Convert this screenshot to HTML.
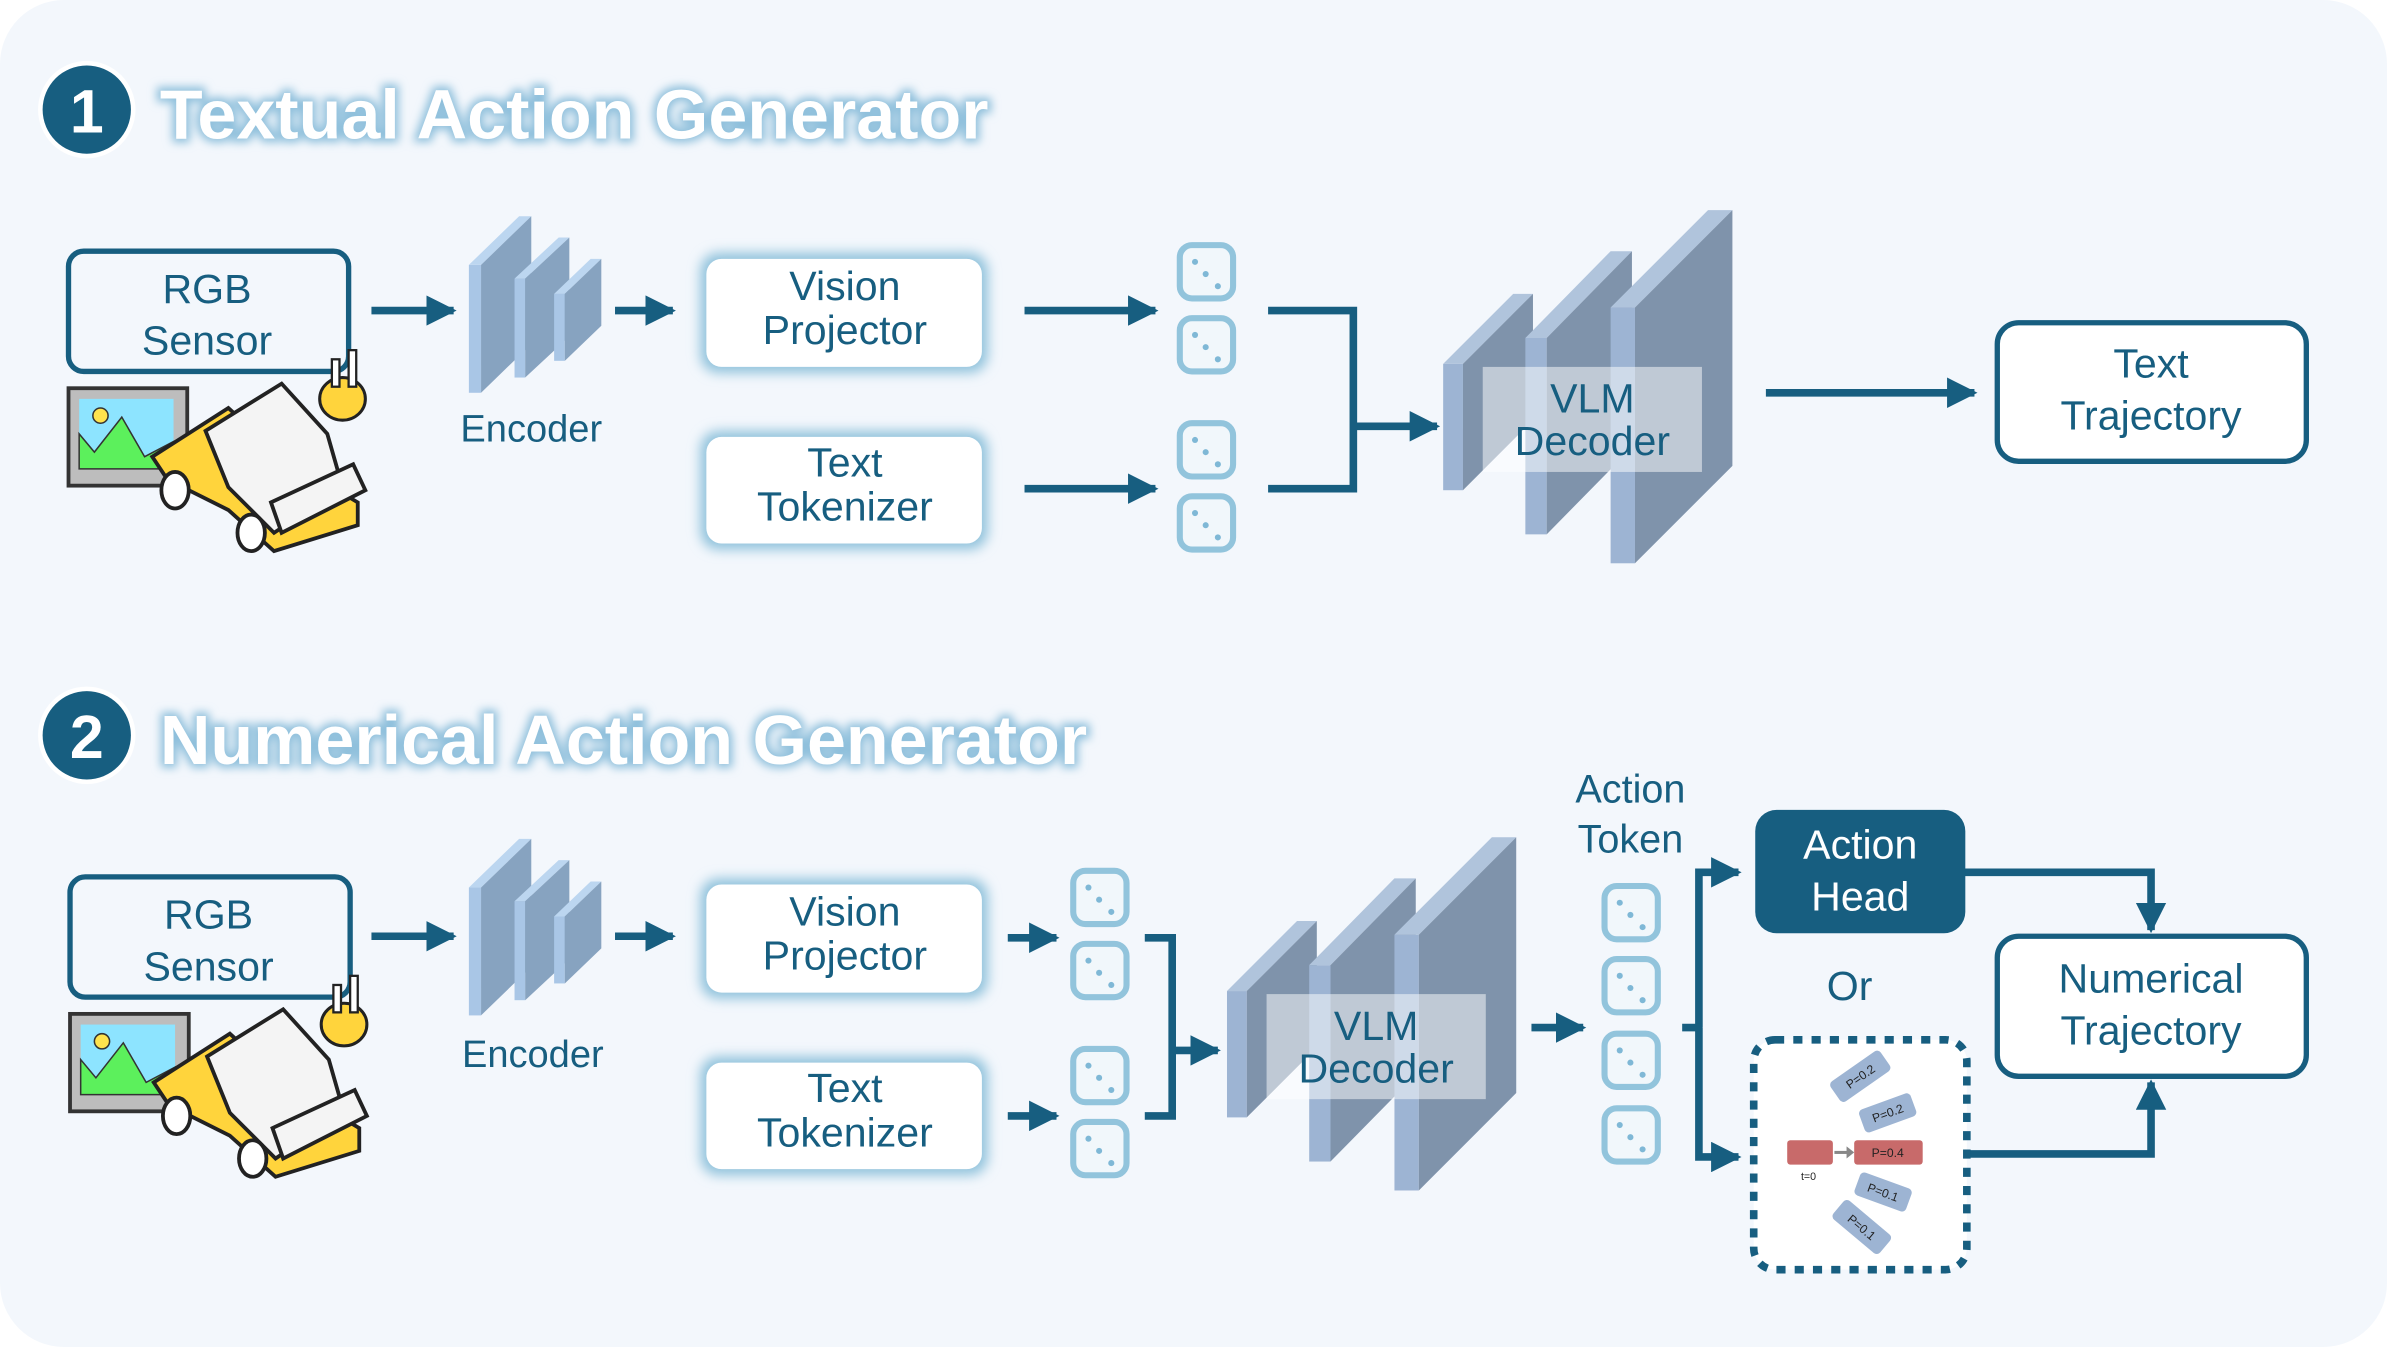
<!DOCTYPE html>
<html><head><meta charset="utf-8"><style>
html,body{margin:0;padding:0;background:#fff;}
svg{display:block}
text{font-family:"Liberation Sans","DejaVu Sans",sans-serif;}
</style></head><body>
<svg width="2387" height="1347" viewBox="0 0 1568 884.8" xmlns="http://www.w3.org/2000/svg">
<defs>
<filter id="glow" x="-20%" y="-40%" width="140%" height="180%"><feGaussianBlur stdDeviation="4"/></filter>
<filter id="tglow" x="-10%" y="-40%" width="120%" height="180%"><feGaussianBlur stdDeviation="3"/></filter>
<marker id="ah" viewBox="0 0 10 10" refX="9" refY="5" markerWidth="4" markerHeight="4" orient="auto" markerUnits="strokeWidth"><path d="M0,0 L10,5 L0,10 z" fill="#175e80"/></marker>
<g id="tok">
<rect x="2" y="2" width="35" height="35" rx="8" fill="#f1f7fb" stroke="#92c4dc" stroke-width="4"/>
<circle cx="12" cy="13" r="2" fill="#7fb8d6"/><circle cx="19" cy="21" r="2" fill="#7fb8d6"/><circle cx="27" cy="29" r="2" fill="#7fb8d6"/>
</g>
<g id="car">
<rect x="45" y="255" width="78" height="64" fill="#bdbdbd" stroke="#333" stroke-width="2.5"/>
<rect x="52" y="262" width="62" height="46" fill="#8de4ff"/>
<polygon points="52,308 52,285 62,297 80,274 95,300 114,290 114,308" fill="#5cf05c" stroke="#333" stroke-width="1"/>
<circle cx="66" cy="273" r="5" fill="#ffe34d" stroke="#333" stroke-width="1"/>
<polygon points="100,300 150,268 185,300 235,330 235,345 180,362 150,335 110,315" fill="#ffd43c" stroke="#222" stroke-width="2.5"/>
<polygon points="135,283 185,252 215,285 225,320 180,350 150,320" fill="#f4f4f4" stroke="#222" stroke-width="2.5"/>
<polygon points="178,330 232,305 240,322 185,350" fill="#f4f4f4" stroke="#222" stroke-width="2.5"/>
<ellipse cx="115" cy="322" rx="9" ry="12" fill="#fff" stroke="#222" stroke-width="2.5"/>
<ellipse cx="165" cy="350" rx="9" ry="12" fill="#fff" stroke="#222" stroke-width="2.5"/>
<ellipse cx="225" cy="262" rx="15" ry="14" fill="#ffd43c" stroke="#222" stroke-width="2"/>
<rect x="218" y="236" width="5" height="18" fill="#fff" stroke="#222" stroke-width="1.5"/>
<rect x="229" y="230" width="5" height="24" fill="#fff" stroke="#222" stroke-width="1.5"/>
</g>
</defs>

<rect x="0" y="0" width="1568" height="884.8" rx="42" fill="#f3f7fc"/>

<!-- Titles -->
<circle cx="57" cy="72" r="32" fill="#fff"/><circle cx="57" cy="72" r="29" fill="#175e80"/>
<text x="57" y="87" text-anchor="middle" font-size="40" font-weight="bold" fill="#fff">1</text>
<text x="105" y="91" font-size="46" font-weight="bold" fill="#8fc0dc" filter="url(#tglow)" stroke="#8fc0dc" stroke-width="5">Textual Action Generator</text>
<text x="105" y="91" font-size="46" font-weight="bold" fill="#fff">Textual Action Generator</text>

<circle cx="57" cy="483" r="32" fill="#fff"/><circle cx="57" cy="483" r="29" fill="#175e80"/>
<text x="57" y="498" text-anchor="middle" font-size="40" font-weight="bold" fill="#fff">2</text>
<text x="105" y="502" font-size="46" font-weight="bold" fill="#8fc0dc" filter="url(#tglow)" stroke="#8fc0dc" stroke-width="5">Numerical Action Generator</text>
<text x="105" y="502" font-size="46" font-weight="bold" fill="#fff">Numerical Action Generator</text>

<!-- ROW 1 -->
<rect x="45" y="165" width="184" height="79" rx="10" fill="#f3f7fc" stroke="#175e80" stroke-width="3.5"/>
<text x="136" y="199" text-anchor="middle" font-size="27" fill="#175e80">RGB</text>
<text x="136" y="233" text-anchor="middle" font-size="27" fill="#175e80">Sensor</text>
<use href="#car"/>

<g stroke="#175e80" stroke-width="5" fill="none" marker-end="url(#ah)">
<line x1="244" y1="204" x2="298" y2="204"/>
<line x1="404" y1="204" x2="442" y2="204"/>
<line x1="673" y1="204" x2="759" y2="204"/>
<line x1="673" y1="321" x2="759" y2="321"/>
<line x1="889" y1="280" x2="944" y2="280"/>
<line x1="1160" y1="258" x2="1297" y2="258"/>
</g>
<polyline points="833,204 889,204 889,321 833,321" fill="none" stroke="#175e80" stroke-width="5"/>

<!-- encoder 1 -->
<g>
<rect x="308" y="174" width="8" height="84" fill="#a9c6e6"/><polygon points="308,174 316,174 349,142 341,142" fill="#bcd6f0"/><polygon points="316,174 349,142 349,226 316,258" fill="#87a3c0"/>
<rect x="338" y="183" width="7" height="65" fill="#a9c6e6"/><polygon points="338,183 345,183 374,156 367,156" fill="#bcd6f0"/><polygon points="345,183 374,156 374,221 345,248" fill="#87a3c0"/>
<rect x="364" y="193" width="7" height="44" fill="#a9c6e6"/><polygon points="364,193 371,193 395,170 388,170" fill="#bcd6f0"/><polygon points="371,193 395,170 395,214 371,237" fill="#87a3c0"/>
</g>
<text x="349" y="290" text-anchor="middle" font-size="25" fill="#175e80">Encoder</text>

<!-- boxes 1 -->
<rect x="460" y="166" width="189" height="79" rx="12" fill="#90c2dc" filter="url(#glow)"/>
<rect x="464" y="170" width="181" height="71" rx="10" fill="#fff"/>
<text x="555" y="197" text-anchor="middle" font-size="27" fill="#175e80">Vision</text>
<text x="555" y="226" text-anchor="middle" font-size="27" fill="#175e80">Projector</text>
<rect x="460" y="283" width="189" height="78" rx="12" fill="#90c2dc" filter="url(#glow)"/>
<rect x="464" y="287" width="181" height="70" rx="10" fill="#fff"/>
<text x="555" y="313" text-anchor="middle" font-size="27" fill="#175e80">Text</text>
<text x="555" y="342" text-anchor="middle" font-size="27" fill="#175e80">Tokenizer</text>

<use href="#tok" x="773" y="159"/><use href="#tok" x="773" y="207"/>
<use href="#tok" x="773" y="276"/><use href="#tok" x="773" y="324"/>

<!-- VLM 1 -->
<g>
<rect x="948" y="239" width="13" height="83" fill="#9db4d3"/><polygon points="948,239 961,239 1007,193 994,193" fill="#b0c4dc"/><polygon points="961,239 1007,193 1007,276 961,322" fill="#7f93ab"/>
<rect x="1002" y="222" width="14" height="129" fill="#9db4d3"/><polygon points="1002,222 1016,222 1072,165 1058,165" fill="#b0c4dc"/><polygon points="1016,222 1072,165 1072,294 1016,351" fill="#7f93ab"/>
<rect x="1058" y="202" width="16" height="168" fill="#9db4d3"/><polygon points="1058,202 1074,202 1138,138 1122,138" fill="#b0c4dc"/><polygon points="1074,202 1138,138 1138,306 1074,370" fill="#7f93ab"/>
<rect x="974" y="241" width="144" height="69" fill="#fff" opacity="0.5"/>
</g>
<text x="1046" y="271" text-anchor="middle" font-size="27" fill="#175e80">VLM</text>
<text x="1046" y="299" text-anchor="middle" font-size="27" fill="#175e80">Decoder</text>

<rect x="1312" y="212" width="203" height="91" rx="14" fill="#fff" stroke="#175e80" stroke-width="3.5"/>
<text x="1413" y="248" text-anchor="middle" font-size="27" fill="#175e80">Text</text>
<text x="1413" y="282" text-anchor="middle" font-size="27" fill="#175e80">Trajectory</text>

<!-- ROW 2 -->
<rect x="46" y="576" width="184" height="79" rx="10" fill="#f3f7fc" stroke="#175e80" stroke-width="3.5"/>
<text x="137" y="610" text-anchor="middle" font-size="27" fill="#175e80">RGB</text>
<text x="137" y="644" text-anchor="middle" font-size="27" fill="#175e80">Sensor</text>
<use href="#car" x="1" y="411"/>

<g stroke="#175e80" stroke-width="5" fill="none" marker-end="url(#ah)">
<line x1="244" y1="615" x2="298" y2="615"/>
<line x1="404" y1="615" x2="442" y2="615"/>
<line x1="662" y1="616" x2="694" y2="616"/>
<line x1="662" y1="733" x2="694" y2="733"/>
<line x1="770" y1="690" x2="800" y2="690"/>
<line x1="1006" y1="675" x2="1040" y2="675"/>
<polyline points="1116,675 1116,573 1142,573"/>
<polyline points="1116,675 1116,760 1142,760"/>
<polyline points="1290,573 1413,573 1413,611"/>
<polyline points="1293,758 1413,758 1413,711"/>
</g>
<polyline points="752,616 770,616 770,733 752,733" fill="none" stroke="#175e80" stroke-width="5"/>
<line x1="1105" y1="675" x2="1118" y2="675" stroke="#175e80" stroke-width="5"/>

<g transform="translate(0,409)">
<rect x="308" y="174" width="8" height="84" fill="#a9c6e6"/><polygon points="308,174 316,174 349,142 341,142" fill="#bcd6f0"/><polygon points="316,174 349,142 349,226 316,258" fill="#87a3c0"/>
<rect x="338" y="183" width="7" height="65" fill="#a9c6e6"/><polygon points="338,183 345,183 374,156 367,156" fill="#bcd6f0"/><polygon points="345,183 374,156 374,221 345,248" fill="#87a3c0"/>
<rect x="364" y="193" width="7" height="44" fill="#a9c6e6"/><polygon points="364,193 371,193 395,170 388,170" fill="#bcd6f0"/><polygon points="371,193 395,170 395,214 371,237" fill="#87a3c0"/>
</g>
<text x="350" y="701" text-anchor="middle" font-size="25" fill="#175e80">Encoder</text>

<rect x="460" y="577" width="189" height="79" rx="12" fill="#90c2dc" filter="url(#glow)"/>
<rect x="464" y="581" width="181" height="71" rx="10" fill="#fff"/>
<text x="555" y="608" text-anchor="middle" font-size="27" fill="#175e80">Vision</text>
<text x="555" y="637" text-anchor="middle" font-size="27" fill="#175e80">Projector</text>
<rect x="460" y="694" width="189" height="78" rx="12" fill="#90c2dc" filter="url(#glow)"/>
<rect x="464" y="698" width="181" height="70" rx="10" fill="#fff"/>
<text x="555" y="724" text-anchor="middle" font-size="27" fill="#175e80">Text</text>
<text x="555" y="753" text-anchor="middle" font-size="27" fill="#175e80">Tokenizer</text>

<use href="#tok" x="703" y="570"/><use href="#tok" x="703" y="618"/>
<use href="#tok" x="703" y="687"/><use href="#tok" x="703" y="735"/>

<g transform="translate(-142,412)">
<rect x="948" y="239" width="13" height="83" fill="#9db4d3"/><polygon points="948,239 961,239 1007,193 994,193" fill="#b0c4dc"/><polygon points="961,239 1007,193 1007,276 961,322" fill="#7f93ab"/>
<rect x="1002" y="222" width="14" height="129" fill="#9db4d3"/><polygon points="1002,222 1016,222 1072,165 1058,165" fill="#b0c4dc"/><polygon points="1016,222 1072,165 1072,294 1016,351" fill="#7f93ab"/>
<rect x="1058" y="202" width="16" height="168" fill="#9db4d3"/><polygon points="1058,202 1074,202 1138,138 1122,138" fill="#b0c4dc"/><polygon points="1074,202 1138,138 1138,306 1074,370" fill="#7f93ab"/>
<rect x="974" y="241" width="144" height="69" fill="#fff" opacity="0.5"/>
</g>
<text x="904" y="683" text-anchor="middle" font-size="27" fill="#175e80">VLM</text>
<text x="904" y="711" text-anchor="middle" font-size="27" fill="#175e80">Decoder</text>

<text x="1071" y="527" text-anchor="middle" font-size="26" fill="#175e80">Action</text>
<text x="1071" y="560" text-anchor="middle" font-size="26" fill="#175e80">Token</text>
<use href="#tok" x="1052" y="580"/><use href="#tok" x="1052" y="628"/>
<use href="#tok" x="1052" y="677"/><use href="#tok" x="1052" y="726"/>

<rect x="1153" y="532" width="138" height="81" rx="14" fill="#175e80"/>
<text x="1222" y="564" text-anchor="middle" font-size="27" fill="#fff">Action</text>
<text x="1222" y="598" text-anchor="middle" font-size="27" fill="#fff">Head</text>

<text x="1215" y="657" text-anchor="middle" font-size="27" fill="#175e80">Or</text>

<rect x="1152" y="683" width="140" height="151" rx="14" fill="#fff" stroke="#175e80" stroke-width="5" stroke-dasharray="6,6"/>
<g font-size="8" fill="#222">
<g transform="translate(1222,707) rotate(-35)"><rect x="-20" y="-8" width="40" height="16" rx="3" fill="#9db4d3"/><text x="0" y="3" text-anchor="middle">P=0.2</text></g>
<g transform="translate(1240,731) rotate(-20)"><rect x="-18" y="-8" width="36" height="16" rx="3" fill="#9db4d3"/><text x="0" y="3" text-anchor="middle">P=0.2</text></g>
<rect x="1174" y="749" width="30" height="16" rx="2" fill="#c86a6a"/>
<rect x="1218" y="749" width="45" height="16" rx="2" fill="#c86a6a"/>
<text x="1240" y="760" text-anchor="middle">P=0.4</text>
<line x1="1205" y1="757" x2="1214" y2="757" stroke="#888" stroke-width="2"/><polygon points="1213,753 1218,757 1213,761" fill="#888"/>
<text x="1188" y="775" text-anchor="middle" font-size="7">t=0</text>
<g transform="translate(1237,783) rotate(20)"><rect x="-18" y="-8" width="36" height="16" rx="3" fill="#9db4d3"/><text x="0" y="3" text-anchor="middle">P=0.1</text></g>
<g transform="translate(1223,806) rotate(40)"><rect x="-20" y="-8" width="40" height="16" rx="3" fill="#9db4d3"/><text x="0" y="3" text-anchor="middle">P=0.1</text></g>
</g>

<rect x="1312" y="615" width="203" height="92" rx="14" fill="#fff" stroke="#175e80" stroke-width="3.5"/>
<text x="1413" y="652" text-anchor="middle" font-size="27" fill="#175e80">Numerical</text>
<text x="1413" y="686" text-anchor="middle" font-size="27" fill="#175e80">Trajectory</text>
</svg>
</body></html>
